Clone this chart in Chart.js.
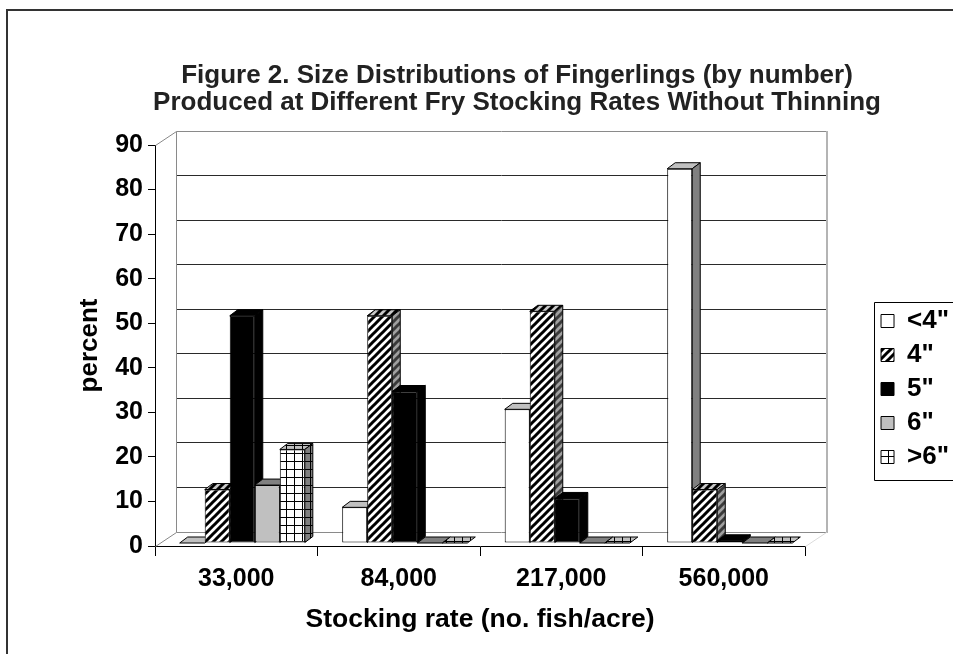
<!DOCTYPE html>
<html>
<head>
<meta charset="utf-8">
<script src="https://cdn.jsdelivr.net/npm/chart.js@4.4.1/dist/chart.umd.min.js"></script>
<style>
  html, body { margin: 0; padding: 0; background: #fff; overflow: hidden; width: 953px; height: 654px; }
  canvas { display: block; }
</style>
</head>
<body>
<canvas id="c" width="960" height="654"></canvas>
<script>
// Stocking rates (x categories) and percentage of fingerlings in each size class
const categories = ['33,000', '84,000', '217,000', '560,000'];
const sizeClasses = ['<4"', '4"', '5"', '6"', '>6"'];
const under4 = [0, 8, 30, 84];
const four = [12, 51, 52, 12];
const five = [51, 34, 10, 0.5];
const six = [13, 0, 0, 0];
const over6 = [21, 0, 0, 0];
const yMax = 90;
const yStep = 10;

const seriesValues = [under4, four, five, six, over6];

const ctx = document.getElementById('c').getContext('2d');
const FONT = "'Liberation Sans', Arial, sans-serif";

function makePattern(w, h, paint) {
  const c = document.createElement('canvas');
  c.width = w; c.height = h;
  paint(c.getContext('2d'), w, h);
  return ctx.createPattern(c, 'repeat');
}
function stripePattern(bg, fg) {
  return makePattern(8, 8, (g) => {
    g.fillStyle = bg; g.fillRect(0, 0, 8, 8);
    g.strokeStyle = fg; g.lineWidth = 3;
    g.beginPath();
    for (const o of [-8, 0, 8]) { g.moveTo(o - 2, 10); g.lineTo(o + 10, -2); }
    g.stroke();
  });
}
function gridPattern(bg, fg) {
  return makePattern(8, 8, (g) => {
    g.fillStyle = bg; g.fillRect(0, 0, 8, 8);
    g.fillStyle = fg; g.fillRect(0, 0, 8, 1); g.fillRect(0, 0, 1, 8);
  });
}

// front / top / side fills of each size class
const faces = [
  { front: '#ffffff', top: '#c0c0c0', side: '#808080' },
  { front: stripePattern('#ffffff', '#000000'), top: stripePattern('#c8c8c8', '#000000'), side: stripePattern('#a0a0a0', '#3a3a3a') },
  { front: '#000000', top: '#000000', side: '#000000' },
  { front: '#c0c0c0', top: '#808080', side: '#6a6a6a' },
  { front: gridPattern('#ffffff', '#000000'), top: gridPattern('#c0c0c0', '#000000'), side: gridPattern('#808080', '#000000') }
];

// 3-D geometry of the box and the columns
const WALL_DX = 21, WALL_DY = -14.4;
const BAR_DX = 8, BAR_DY = -6;
const BAR_SHIFT_X = 6, BAR_SHIFT_Y = -3;
const LEGEND_DROP = 62;

function px(v) { return Math.round(v) + 0.5; }

function drawFaces(c, bar, f) {
  const { x, y, base, width } = bar.getProps(['x', 'y', 'base', 'width'], true);
  const l = x - width / 2, r = x + width / 2;
  const t = Math.min(y, base), b = Math.max(y, base);
  c.lineWidth = 1; c.strokeStyle = '#000'; c.lineJoin = 'miter';
  c.beginPath();
  c.moveTo(l, t); c.lineTo(l + BAR_DX, t + BAR_DY); c.lineTo(r + BAR_DX, t + BAR_DY); c.lineTo(r, t);
  c.closePath();
  c.fillStyle = f.top; c.fill(); c.stroke();
  if (b - t > 0.5) {
    c.beginPath();
    c.moveTo(r, t); c.lineTo(r + BAR_DX, t + BAR_DY); c.lineTo(r + BAR_DX, b + BAR_DY); c.lineTo(r, b);
    c.closePath();
    c.fillStyle = f.side; c.fill(); c.stroke();
  }
}

const box3d = {
  id: 'box3d',
  beforeDraw(chart) {
    const c = chart.ctx;
    c.save();
    c.fillStyle = '#fff';
    c.fillRect(0, 0, chart.width, chart.height);
    c.restore();
  },
  beforeDatasetsDraw(chart) {
    const c = chart.ctx;
    const xs = chart.scales.x, ys = chart.scales.y;
    const L = xs.left, R = xs.right;
    const back = (v) => ys.getPixelForValue(v) + WALL_DY;
    const bl = px(L + WALL_DX), br = px(R + WALL_DX);
    c.save();
    c.lineWidth = 1;
    // back-wall grid lines
    c.strokeStyle = '#2a2a2a';
    ys.ticks.forEach((tk) => {
      if (tk.value <= ys.min || tk.value >= ys.max) return;
      const yy = px(back(tk.value));
      c.beginPath(); c.moveTo(bl, yy); c.lineTo(br, yy); c.stroke();
    });
    // wall outline
    c.strokeStyle = '#8a8a8a';
    c.beginPath();
    c.moveTo(bl, px(back(ys.min))); c.lineTo(bl, px(back(ys.max))); c.lineTo(br, px(back(ys.max)));
    c.moveTo(bl, px(back(ys.min))); c.lineTo(br, px(back(ys.min)));
    c.moveTo(px(L), px(ys.getPixelForValue(ys.max))); c.lineTo(bl, px(back(ys.max)));
    c.moveTo(px(L), px(ys.getPixelForValue(ys.min))); c.lineTo(bl, px(back(ys.min)));
    c.stroke();
    c.strokeStyle = '#b4b4b4';
    c.lineWidth = 2;
    c.beginPath();
    c.moveTo(br + 0.5, px(back(ys.max)) - 0.5); c.lineTo(br + 0.5, px(back(ys.min)) + 0.5);
    c.stroke();
    c.lineWidth = 1;
    c.strokeStyle = '#dcdcdc';
    c.beginPath();
    c.moveTo(px(R), px(ys.getPixelForValue(ys.min))); c.lineTo(br, px(back(ys.min)));
    c.stroke();

    // columns, drawn category by category so nearer faces cover hidden ones
    c.translate(BAR_SHIFT_X, BAR_SHIFT_Y);
    const metas = chart.data.datasets.map((d, i) => chart.getDatasetMeta(i));
    categories.forEach((_, k) => {
      metas.forEach((meta, i) => {
        const bar = meta.data[k];
        if (!bar) return;
        bar.draw(c);
        drawFaces(c, bar, faces[i]);
      });
    });
    c.restore();
  },
  beforeDatasetDraw() { return false; },
  afterLayout(chart) {
    const lg = chart.legend;
    if (lg) { lg.top += LEGEND_DROP; lg.bottom += LEGEND_DROP; }
  },
  afterDraw(chart) {
    const c = chart.ctx;
    c.save();
    // outer frame
    c.strokeStyle = '#333';
    c.lineWidth = 2;
    c.beginPath();
    c.moveTo(7, chart.height); c.lineTo(7, 10); c.lineTo(chart.width, 10);
    c.stroke();
    // legend frame
    const hb = chart.legend.legendHitBoxes;
    if (hb && hb.length) {
      const first = hb[0], last = hb[hb.length - 1];
      const l = px(first.left - 7), t = px(first.top - 6);
      const b = px(last.top + last.height + 10);
      c.lineWidth = 1;
      c.strokeStyle = '#000';
      c.beginPath();
      c.moveTo(chart.width + 2, t); c.lineTo(l, t); c.lineTo(l, b); c.lineTo(chart.width + 2, b);
      c.stroke();
    }
    c.restore();
  }
};

const datasets = seriesValues.map((vals, i) => ({
  label: sizeClasses[i],
  data: vals,
  backgroundColor: faces[i].front,
  borderColor: '#000',
  borderWidth: 1,
  borderSkipped: false,
  categoryPercentage: 0.77,
  barPercentage: 1.0,
  clip: false
}));

new Chart(ctx, {
  type: 'bar',
  data: { labels: categories, datasets },
  plugins: [box3d],
  options: {
    responsive: false,
    animation: false,
    devicePixelRatio: 1,
    layout: { padding: { left: 75, right: 1, top: 0, bottom: 0 } },
    plugins: {
      tooltip: { enabled: false },
      title: {
        display: true,
        text: ['Figure 2. Size Distributions of Fingerlings (by number)',
               'Produced at Different Fry Stocking Rates Without Thinning'],
        color: '#222',
        font: { family: FONT, size: 26, weight: 'bold', lineHeight: '27px' },
        padding: { top: 62, bottom: 29 }
      },
      legend: {
        position: 'right',
        labels: {
          color: '#000',
          font: { family: FONT, size: 26, weight: 'bold' },
          boxWidth: 13,
          boxHeight: 13,
          padding: 8,
          sort: (a, b) => a.datasetIndex - b.datasetIndex
        }
      }
    },
    scales: {
      x: {
        grid: { display: true, drawOnChartArea: false, offset: true, tickLength: 10, color: '#000' },
        border: { display: true, color: '#000', width: 1 },
        ticks: { color: '#000', padding: 8, maxRotation: 0, font: { family: FONT, size: 25, weight: 'bold' } },
        title: {
          display: true,
          text: 'Stocking rate (no. fish/acre)',
          color: '#000',
          font: { family: FONT, size: 26.5, weight: 'bold', lineHeight: '30px' },
          padding: { top: 0, bottom: 19 }
        },
        afterFit(s) { s.height = 108; }
      },
      y: {
        min: 0,
        max: yMax,
        grid: { display: true, drawOnChartArea: false, tickLength: 7, color: '#000' },
        border: { display: true, color: '#000', width: 1 },
        ticks: { stepSize: yStep, color: '#000', padding: 5, font: { family: FONT, size: 25, weight: 'bold' } },
        title: {
          display: true,
          text: 'percent',
          color: '#000',
          font: { family: FONT, size: 26, weight: 'bold', lineHeight: '30px' },
          padding: 0
        },
        afterFit(s) { s.width = 80; }
      },
      gap: {
        type: 'linear',
        position: 'right',
        display: true,
        grid: { display: false },
        border: { display: false },
        ticks: { display: false },
        afterFit(s) { s.width = 68; }
      }
    }
  }
});
</script>
</body>
</html>
